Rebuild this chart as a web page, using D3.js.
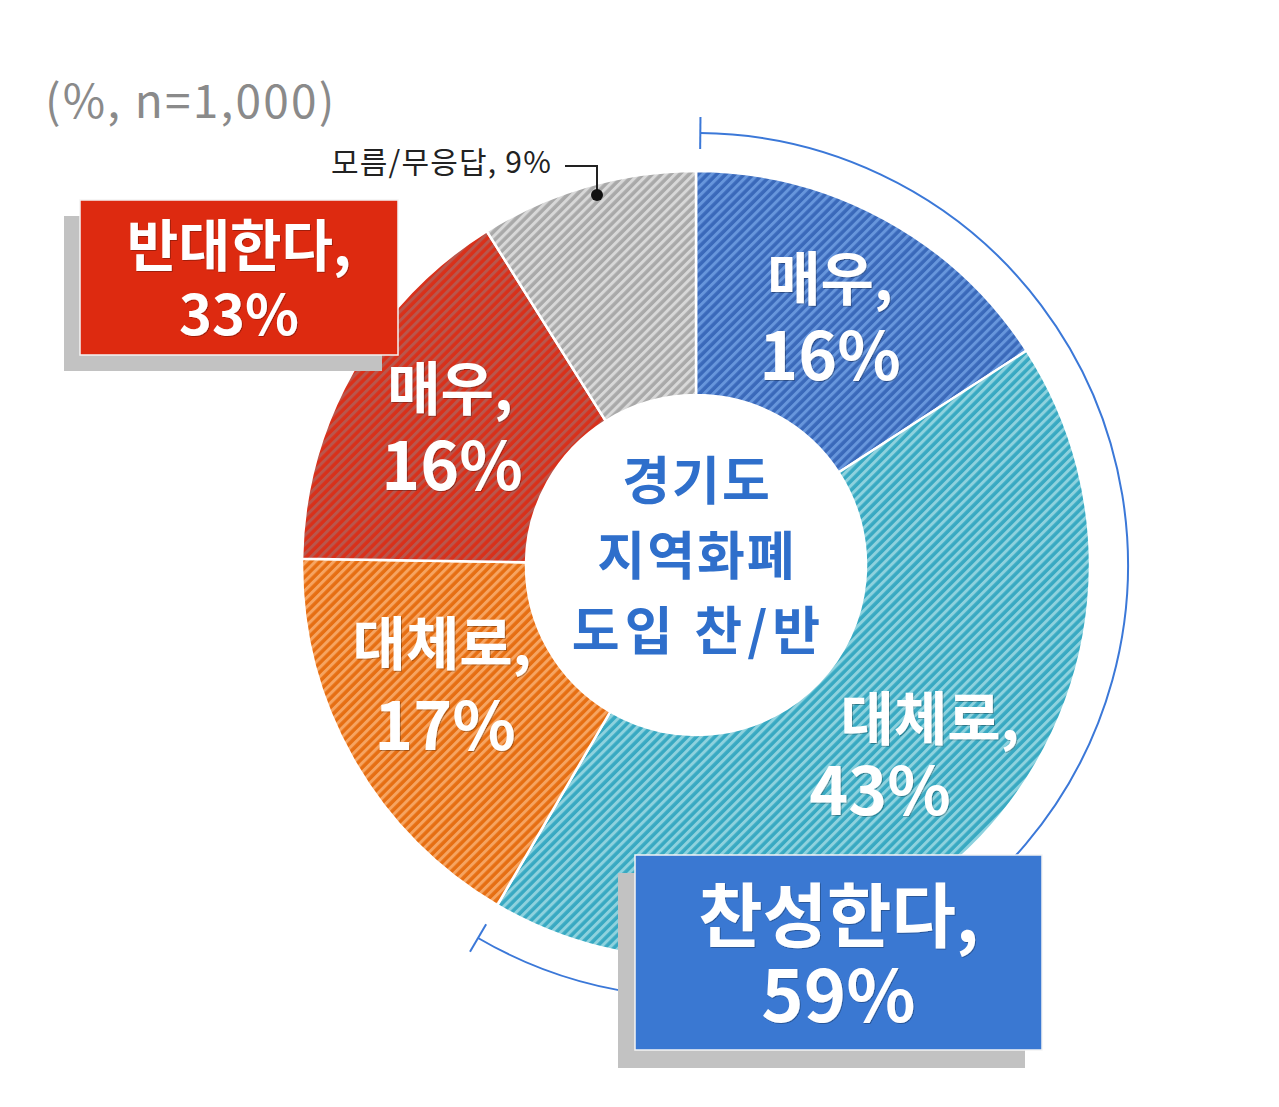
<!DOCTYPE html>
<html><head><meta charset="utf-8">
<script src="https://cdn.jsdelivr.net/npm/d3@7"></script>
<style>html,body{margin:0;padding:0;background:#fff;}svg{display:block;}</style>
</head><body>
<script>
const categories = ["찬성 매우", "찬성 대체로", "반대 대체로", "반대 매우", "모름/무응답"];
const values = [16, 43, 17, 16, 9];
const labelTop = ["매우,", "대체로,", "대체로,", "매우,", ""];
const labelPct = ["16%", "43%", "17%", "16%", ""];
const groupNames = ["찬성한다,", "반대한다,"];
const groupValues = ["59%", "33%"];
const centerLines = ["경기도", "지역화폐", "도입 찬/반"];
const noteText = "(%, n=1,000)";
const dkText = "모름/무응답, 9%";

const W = 1279, H = 1107;
const cx = 696, cy = 565, R = 394, r0 = 170;
const baseColors = ["#3a69ba", "#38a9c2", "#e66e12", "#d9301a", "#a9a9a9"];
const stripeColors = ["#6796dc", "#8ed2de", "#f6a461", "#b9564c", "#d8d8d8"];

const svg = d3.select("body").append("svg").attr("width", W).attr("height", H);
const defs = svg.append("defs");
baseColors.forEach((c, i) => {
  const p = defs.append("pattern").attr("id", "pat" + i).attr("patternUnits", "userSpaceOnUse")
    .attr("width", 6.5).attr("height", 6.5).attr("patternTransform", "rotate(45)");
  p.append("rect").attr("width", 6.5).attr("height", 6.5).attr("fill", c);
  p.append("rect").attr("width", 3).attr("height", 6.5).attr("fill", stripeColors[i]);
});

const pie = d3.pie().sort(null).value(d => d);
const arcs = pie(values);
const arc = d3.arc().innerRadius(r0).outerRadius(R);
const g = svg.append("g").attr("transform", `translate(${cx},${cy})`);
g.selectAll("path.slice").data(arcs).join("path").attr("class", "slice")
  .attr("d", arc).attr("fill", (d, i) => `url(#pat${i})`)
  .attr("stroke", "#fff").attr("stroke-width", 2.5);

// bracket arc over 찬성 (first two slices)
const bracketEnd = arcs[1].endAngle;
const bR = 432;
g.append("path").attr("d", d3.arc().innerRadius(bR).outerRadius(bR).startAngle(0.01).endAngle(bracketEnd)())
  .attr("fill", "none").attr("stroke", "#3b78d8").attr("stroke-width", 2);
[0.01, bracketEnd].forEach(a => {
  const sx = Math.sin(a), sy = -Math.cos(a);
  g.append("line").attr("x1", (bR - 16) * sx).attr("y1", (bR - 16) * sy)
    .attr("x2", (bR + 16) * sx).attr("y2", (bR + 16) * sy)
    .attr("stroke", "#3b78d8").attr("stroke-width", 2);
});

const font = "'Noto Sans CJK KR', 'Noto Sans', sans-serif";
const shadow = defs.append("filter").attr("id", "ts").attr("x", "-10%").attr("y", "-10%").attr("width", "120%").attr("height", "120%");
shadow.append("feDropShadow").attr("dx", 0.8).attr("dy", 0.8).attr("stdDeviation", 0.6).attr("flood-color", "#000").attr("flood-opacity", 0.35);

// slice labels (two lines in one text)
const labelPos = [[830, 300, 830, 380], [930, 740, 880, 815], [442, 665, 445, 750], [450, 410, 452, 490]];
labelPos.forEach((p, i) => {
  const t = svg.append("text").attr("text-anchor", "middle").attr("font-family", font)
    .attr("font-weight", 700).attr("fill", "#fff").attr("filter", "url(#ts)");
  t.append("tspan").attr("x", p[0]).attr("y", p[1]).attr("font-size", 58).text(labelTop[i]);
  t.append("tspan").attr("x", p[2]).attr("y", p[3]).attr("font-size", 66).text(labelPct[i]);
});

// center text
const centerY = [500, 575, 650];
const centerLS = [2, 2, 5];
const ct = svg.append("text").attr("text-anchor", "middle").attr("font-family", font)
  .attr("font-weight", 700).attr("font-size", 52).attr("fill", "#2f6fcb");
centerLines.forEach((t, i) => {
  ct.append("tspan").attr("x", cx + centerLS[i] / 2).attr("y", centerY[i]).attr("letter-spacing", centerLS[i]).text(t);
});

// note
svg.append("text").attr("x", 45).attr("y", 118).attr("font-family", font).attr("font-size", 46)
  .attr("letter-spacing", 2.2).attr("fill", "#8a8a8a").text(noteText);

// don't know label + leader
svg.append("text").attr("x", 552).attr("y", 173).attr("text-anchor", "end").attr("font-family", font)
  .attr("font-size", 30).attr("letter-spacing", 1.2).attr("fill", "#222").text(dkText);
svg.append("path").attr("d", "M565,166 H597 V195").attr("fill", "none").attr("stroke", "#222").attr("stroke-width", 2);
svg.append("circle").attr("cx", 597).attr("cy", 195).attr("r", 6).attr("fill", "#111");

// group boxes
const boxes = [
  {x: 635, y: 855, w: 407, h: 195, sx: -17, sy: 18, fill: "#3a78d2", fs1: 70, fs2: 72, y1: 942, y2: 1022},
  {x: 80, y: 200, w: 318, h: 155, sx: -16, sy: 16, fill: "#dd2a10", fs1: 56, fs2: 56, y1: 266, y2: 335}
];
boxes.forEach((b, i) => {
  svg.append("rect").attr("x", b.x + b.sx).attr("y", b.y + b.sy).attr("width", b.w).attr("height", b.h).attr("fill", "#c2c2c2");
  svg.append("rect").attr("x", b.x).attr("y", b.y).attr("width", b.w).attr("height", b.h).attr("fill", b.fill)
    .attr("stroke", "#f4f4f4").attr("stroke-width", 1.5);
  const t = svg.append("text").attr("text-anchor", "middle").attr("font-family", font)
    .attr("font-weight", 700).attr("fill", "#fff").attr("filter", "url(#ts)");
  t.append("tspan").attr("x", b.x + b.w / 2).attr("y", b.y1).attr("font-size", b.fs1).text(groupNames[i]);
  t.append("tspan").attr("x", b.x + b.w / 2).attr("y", b.y2).attr("font-size", b.fs2).text(groupValues[i]);
});
</script>
</body></html>
